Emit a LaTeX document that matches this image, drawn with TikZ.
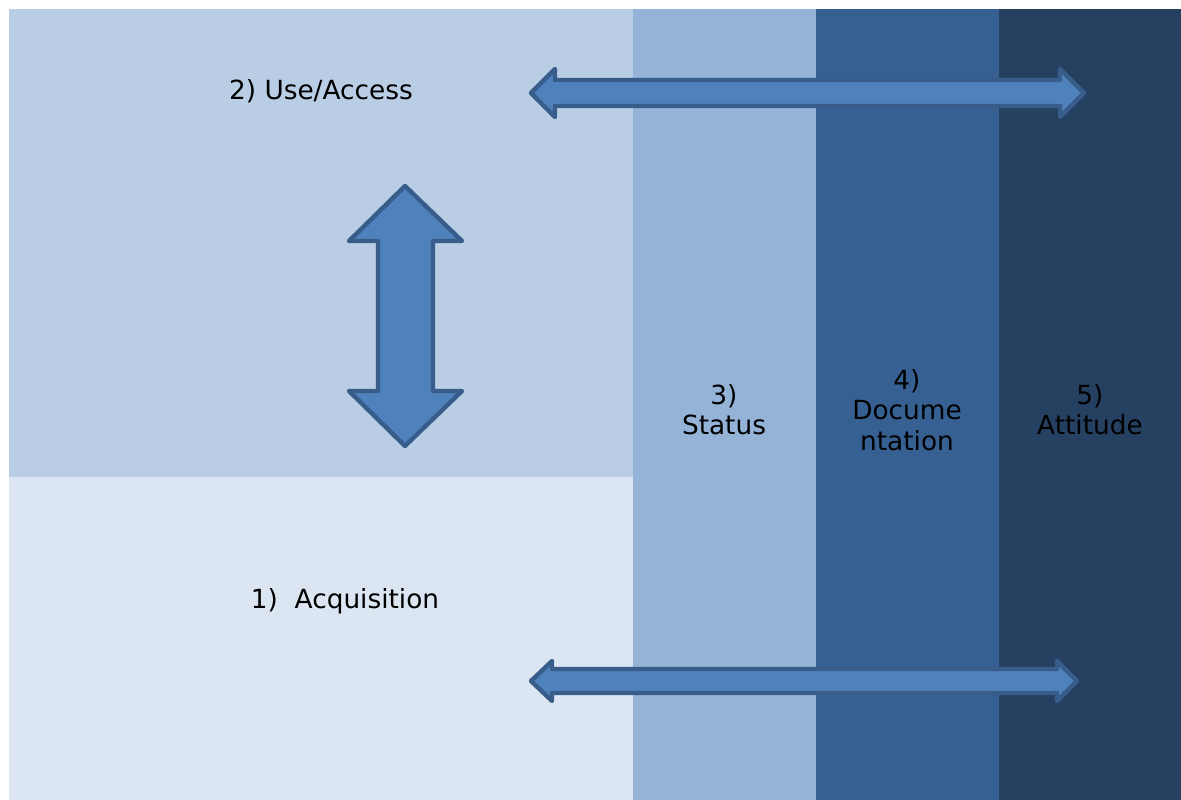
\documentclass[tikz,border=0pt]{standalone}
\usepackage{fontspec}
\setmainfont{DejaVu Sans}
\usepackage{tikz}

\definecolor{useblue}{HTML}{B9CDE5}
\definecolor{acqblue}{HTML}{DCE6F2}
\definecolor{statblue}{HTML}{95B3D7}
\definecolor{docblue}{HTML}{376092}
\definecolor{attblue}{HTML}{254061}
\definecolor{arrowfill}{HTML}{4F81BD}
\definecolor{arrowline}{HTML}{385D8A}

\tikzset{
  blockarrow/.style={fill=arrowfill, draw=arrowline, line width=2.5pt, line join=round},
  label/.style={font=\fontsize{15}{17.2}\selectfont, align=center, inner sep=0pt, text=black}
}

\begin{document}
\begin{tikzpicture}[x=0.02cm, y=-0.02cm]
    \useasboundingbox (0,0) rectangle (1181,800);
    % areas
    \fill[useblue] (9,9) rectangle (634,477);
    \fill[acqblue] (9,477) rectangle (634,800);
    \fill[statblue] (633,9) rectangle (816,800);
    \fill[docblue] (816,9) rectangle (999,800);
    \fill[attblue] (999,9) rectangle (1181,800);
    % top double arrow
    \draw[blockarrow] (531,93) -- (555,69) -- (555,80) -- (1060,80) -- (1060,69)
      -- (1084,93) -- (1060,117) -- (1060,106) -- (555,106) -- (555,117) -- cycle;
    % bottom double arrow
    \draw[blockarrow] (531,681) -- (552,661) -- (552,669) -- (1057,669) -- (1057,661)
      -- (1077,681) -- (1057,701) -- (1057,693) -- (552,693) -- (552,701) -- cycle;
    % vertical double arrow
    \draw[blockarrow] (405,186) -- (462,241) -- (433,241) -- (433,391) -- (462,391)
      -- (405,446) -- (349,391) -- (378,391) -- (378,241) -- (349,241) -- cycle;
    % texts
    \node[label] (use) at (321,91) {2) Use/Access};
    \node[label] (acq) at (345,601) {1)\ \ Acquisition};
    \node[label] (status) at (724,410) {3)\\Status};
    \node[label] (doc) at (907,410) {4)\\Docume\\ntation};
    \node[label] (att) at (1090,410) {5)\\Attitude};
\end{tikzpicture}
\end{document}
